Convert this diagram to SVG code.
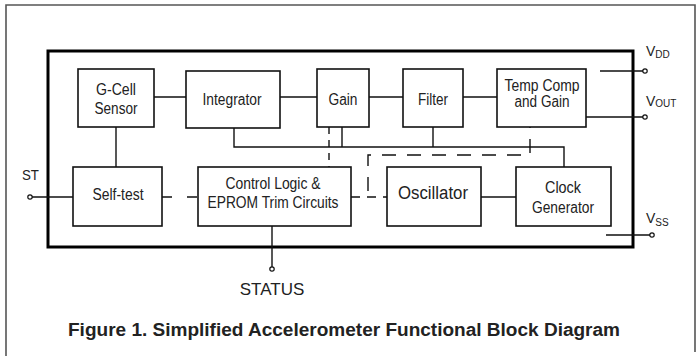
<svg xmlns="http://www.w3.org/2000/svg" width="696" height="356" viewBox="0 0 696 356">
<style>
.blk rect{fill:#fff;stroke:#111;stroke-width:1.6}
text{font-family:"Liberation Sans",Arial,sans-serif;fill:#222}
.t{font-size:16px;text-anchor:middle}
.w{stroke:#111;stroke-width:1.4;fill:none}
.d{stroke:#111;stroke-width:1.4;fill:none}
.pin{fill:#fff;stroke:#111;stroke-width:1.2}
</style>
<rect width="696" height="356" fill="#fff"/>
<g id="frame">
<path d="M6,356 V5 H695 V352" fill="none" stroke="#555" stroke-width="1.6"/>
<rect x="48" y="51" width="585" height="196" fill="none" stroke="#000" stroke-width="3"/>
</g>
<g id="connectors">
<path class="w" d="M154,97 H186 M280,97 H317 M369,97 H403 M463,97 H497"/>
<path class="w" d="M116,127 V167"/>
<path class="w" d="M234,128 V147 H564 V167 M342,127 V147 M433,127 V147"/>
<path class="w" d="M481,197 H516"/>
<path class="w" d="M32,197 H73"/>
<path class="w" d="M272,226 V267"/>
<path class="w" d="M600,71 H643 M586,117 H643 M606,235 H650"/>
<path class="d" d="M329,127 V167" stroke-dasharray="7 6"/>
<path class="d" d="M162,197 H198" stroke-dasharray="10 15"/>
<path class="d" d="M530,114 V155 H368 V197" stroke-dasharray="14 11"/>
<path class="d" d="M351,197 H387" stroke-dasharray="9 7"/>
<circle class="pin" cx="30" cy="197" r="2.2"/>
<circle class="pin" cx="272" cy="269" r="2.2"/>
<circle class="pin" cx="645" cy="71" r="2.2"/>
<circle class="pin" cx="645" cy="117" r="2.2"/>
<circle class="pin" cx="652" cy="235" r="2.2"/>
</g>
<g id="gcell" class="blk"><rect x="78" y="69" width="76" height="58"/>
<text class="t" x="116" y="95" textLength="40" lengthAdjust="spacingAndGlyphs">G-Cell</text>
<text class="t" x="116" y="114" textLength="43" lengthAdjust="spacingAndGlyphs">Sensor</text></g>
<g id="integrator" class="blk"><rect x="186" y="71" width="94" height="57"/>
<text class="t" x="232" y="105" textLength="59" lengthAdjust="spacingAndGlyphs">Integrator</text></g>
<g id="gain" class="blk"><rect x="317" y="69" width="52" height="58"/>
<text class="t" x="343" y="105" textLength="29" lengthAdjust="spacingAndGlyphs">Gain</text></g>
<g id="filter" class="blk"><rect x="403" y="69" width="60" height="58"/>
<text class="t" x="433" y="105" textLength="30" lengthAdjust="spacingAndGlyphs">Filter</text></g>
<g id="tempcomp" class="blk"><rect x="497" y="69" width="89" height="58"/>
<text class="t" x="542" y="91" textLength="75" lengthAdjust="spacingAndGlyphs">Temp Comp</text>
<text class="t" x="542" y="107" textLength="55" lengthAdjust="spacingAndGlyphs">and Gain</text></g>
<g id="selftest" class="blk"><rect x="73" y="167" width="89" height="59"/>
<text class="t" x="118" y="200" textLength="51" lengthAdjust="spacingAndGlyphs">Self-test</text></g>
<g id="control" class="blk"><rect x="198" y="167" width="153" height="59"/>
<text class="t" x="273" y="189" textLength="95" lengthAdjust="spacingAndGlyphs">Control Logic &amp;</text>
<text class="t" x="273" y="208" textLength="131" lengthAdjust="spacingAndGlyphs">EPROM Trim Circuits</text></g>
<g id="oscillator" class="blk"><rect x="387" y="167" width="94" height="59"/>
<text class="t" x="433" y="199" style="font-size:18px" textLength="70" lengthAdjust="spacingAndGlyphs">Oscillator</text></g>
<g id="clock" class="blk"><rect x="516" y="167" width="95" height="59"/>
<text class="t" x="563" y="193" textLength="36" lengthAdjust="spacingAndGlyphs">Clock</text>
<text class="t" x="563" y="213" textLength="62" lengthAdjust="spacingAndGlyphs">Generator</text></g>
<g id="labels">
<text x="22" y="180" style="font-size:15px" textLength="17" lengthAdjust="spacingAndGlyphs">ST</text>
<text x="272" y="295" style="font-size:17px;text-anchor:middle">STATUS</text>
<text x="646" y="56" style="font-size:14px">V<tspan style="font-size:10px" dy="2">DD</tspan></text>
<text x="646" y="106" style="font-size:14px">V<tspan style="font-size:10px" dy="1">OUT</tspan></text>
<text x="646" y="223" style="font-size:14px">V<tspan style="font-size:10px" dy="3">SS</tspan></text>
<text x="68" y="336" style="font-size:18px;font-weight:bold" textLength="552" lengthAdjust="spacingAndGlyphs">Figure 1. Simplified Accelerometer Functional Block Diagram</text>
</g>
</svg>
